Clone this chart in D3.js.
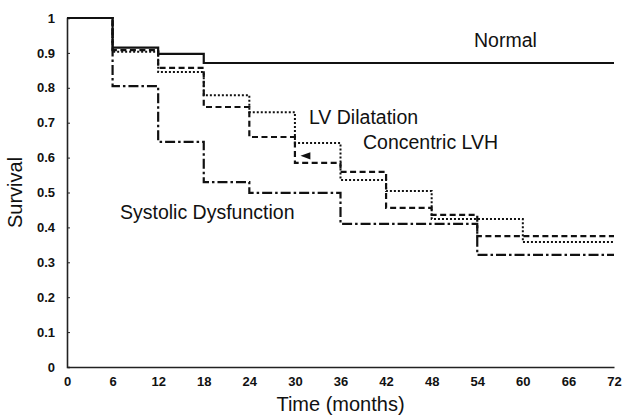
<!DOCTYPE html>
<html>
<head>
<meta charset="utf-8">
<script src="https://cdn.jsdelivr.net/npm/d3@7"></script>
<style>
  body { margin: 0; background: #fff; }
  text { font-family: "Liberation Sans", Arial, sans-serif; fill: #111; }
</style>
</head>
<body>
<div id="chart"></div>
<script>
// survival curves, one value per 6-month step
var months = [0, 6, 12, 18, 24, 30, 36, 42, 48, 54, 60, 72];
var normal = [1, 0.915, 0.897, 0.871, 0.871, 0.871, 0.871, 0.871, 0.871, 0.871, 0.871, 0.871];
var lvDilatation = [1, 0.903, 0.845, 0.779, 0.730, 0.642, 0.536, 0.504, 0.424, 0.424, 0.358, 0.358];
var concentricLVH = [1, 0.908, 0.857, 0.745, 0.659, 0.585, 0.559, 0.456, 0.436, 0.375, 0.375, 0.375];
var systolicDysf = [1, 0.805, 0.645, 0.530, 0.499, 0.499, 0.410, 0.410, 0.410, 0.321, 0.321, 0.321];
var xTicks = [0, 6, 12, 18, 24, 30, 36, 42, 48, 54, 60, 66, 72];
var yTicks = [0, 0.1, 0.2, 0.3, 0.4, 0.5, 0.6, 0.7, 0.8, 0.9, 1];

var width = 628, height = 416;
var svg = d3.select("#chart")
            .append("svg")
            .attr("width", width)
            .attr("height", height);

var x = d3.scaleLinear().domain([0, 72]).range([67, 614]);
var y = d3.scaleLinear().domain([0, 1]).range([367, 18]);

// axes
var xAxis = d3.axisBottom(x).tickValues(xTicks).tickSize(0).tickPadding(10).tickFormat(d3.format("d"));
var yAxis = d3.axisLeft(y).tickValues(yTicks).tickSize(-3).tickPadding(12).tickFormat(function(d) { return d === 0 || d === 1 ? d : d3.format(".1f")(d); });

var gx = svg.append("g").attr("transform", "translate(0," + y(0) + ")").call(xAxis);
var gy = svg.append("g").attr("transform", "translate(" + x(0) + ",0)").call(yAxis);

[gx, gy].forEach(function(g) {
    g.select(".domain").attr("stroke", "#222").attr("stroke-width", 1.6);
    g.selectAll(".tick line").attr("stroke", "#222").attr("stroke-width", 1);
    g.selectAll(".tick text")
        .style("font-family", "'Liberation Sans', Arial, sans-serif")
        .style("font-size", "13px")
        .style("font-weight", "bold")
        .attr("fill", "#111");
});

// curves
var series = [
    {name: "Normal", values: normal, dash: null, width: 2.2},
    {name: "LV Dilatation", values: lvDilatation, dash: "2,2", width: 2},
    {name: "Concentric LVH", values: concentricLVH, dash: "6,3.5", width: 2.2},
    {name: "Systolic Dysfunction", values: systolicDysf, dash: "10,3,2.5,3", width: 2.2}
];

var line = d3.line()
            .x(function(d) { return x(d[0]); })
            .y(function(d) { return y(d[1]); })
            .curve(d3.curveStepAfter);

series.forEach(function(s) {
    var pts = months.map(function(m, i) { return [m, s.values[i]]; });
    svg.append("path")
        .attr("d", line(pts))
        .attr("fill", "none")
        .attr("stroke", "#111")
        .attr("stroke-width", s.width)
        .attr("stroke-dasharray", s.dash);
});

// little arrow mark inside the LVH box
svg.append("path")
    .attr("d", d3.symbol().type(d3.symbolTriangle).size(22))
    .attr("transform", "translate(" + x(31.6) + "," + y(0.605) + ") rotate(-90) scale(1,1.6)")
    .attr("fill", "#111");

// curve labels
var labels = [
    {text: "Normal", at: [53.57, 0.917]},
    {text: "LV Dilatation", at: [31.85, 0.696]},
    {text: "Concentric LVH", at: [38.96, 0.625]},
    {text: "Systolic Dysfunction", at: [6.98, 0.424]}
];
svg.selectAll(".curve-label")
    .data(labels)
    .enter()
    .append("text")
    .attr("class", "curve-label")
    .attr("x", function(d) { return x(d.at[0]); })
    .attr("y", function(d) { return y(d.at[1]); })
    .style("font-size", "19.5px")
    .text(function(d) { return d.text; });

// axis titles
svg.append("text")
    .attr("x", (x(0) + x(72)) / 2)
    .attr("y", 411)
    .attr("text-anchor", "middle")
    .style("font-size", "20px")
    .text("Time (months)");

svg.append("text")
    .attr("transform", "translate(22," + y(0.5) + ") rotate(-90)")
    .attr("text-anchor", "middle")
    .style("font-size", "20px")
    .text("Survival");
</script>
</body>
</html>
